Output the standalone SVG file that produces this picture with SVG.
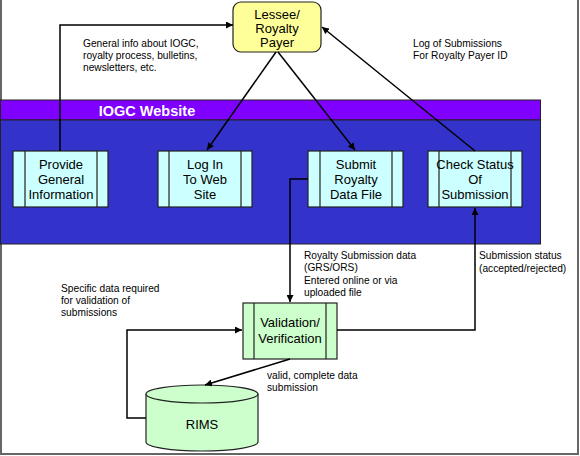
<svg xmlns="http://www.w3.org/2000/svg" width="580" height="456" viewBox="0 0 580 456">
<defs>
<marker id="ah" viewBox="0 0 10 10" refX="10" refY="5" markerWidth="7" markerHeight="7" markerUnits="userSpaceOnUse" orient="auto">
<path d="M0,0 L10,5 L0,10 z" fill="#000"/>
</marker>
<style>
.lbl{font-family:"Liberation Sans",Arial,sans-serif;font-size:10.2px;fill:#000}
.bt{font-family:"Liberation Sans",Arial,sans-serif;font-size:13px;fill:#000;text-anchor:middle}
.proc{fill:#CCFFFF;stroke:#222;stroke-width:1.2}
.proc2{fill:#CCFFCC;stroke:#222;stroke-width:1.2}
.inner{stroke:#222;stroke-width:1.2;fill:none}
.conn{fill:none;stroke:#000;stroke-width:1.5;marker-end:url(#ah)}
.connp{fill:none;stroke:#000;stroke-width:1.5}
</style>
</defs>
<rect width="580" height="456" fill="#fff"/>
<path d="M1,0 V454 H578 V0" fill="none" stroke="#666" stroke-width="2"/>

<g id="website">
<rect x="0.5" y="100" width="540" height="20" fill="#8000FF" stroke="#222" stroke-width="1"/>
<rect x="0.5" y="120" width="540" height="124" fill="#3333CC" stroke="#222" stroke-width="1"/>
<text x="147" y="116" font-family="Liberation Sans,Arial,sans-serif" font-size="14.5" font-weight="bold" fill="#fff" text-anchor="middle">IOGC Website</text>
</g>

<g id="lessee">
<rect x="233" y="2" width="88" height="50" rx="8" fill="#FFFF99" stroke="#222" stroke-width="1.2"/>
<text class="bt" x="277" y="19">Lessee/</text>
<text class="bt" x="277" y="33">Royalty</text>
<text class="bt" x="277" y="47">Payer</text>
</g>

<g id="provide">
<rect class="proc" x="13" y="151" width="95" height="56"/>
<path class="inner" d="M25,151 V207 M97,151 V207"/>
<text class="bt" x="61" y="169">Provide</text>
<text class="bt" x="61" y="184">General</text>
<text class="bt" x="61" y="199">Information</text>
</g>

<g id="login">
<rect class="proc" x="158" y="151" width="94" height="56"/>
<path class="inner" d="M169,151 V207 M241,151 V207"/>
<text class="bt" x="205" y="169">Log In</text>
<text class="bt" x="205" y="184">To Web</text>
<text class="bt" x="205" y="199">Site</text>
</g>

<g id="submit">
<rect class="proc" x="308" y="151" width="95" height="56"/>
<path class="inner" d="M320,151 V207 M392,151 V207"/>
<text class="bt" x="356" y="169">Submit</text>
<text class="bt" x="356" y="184">Royalty</text>
<text class="bt" x="356" y="199">Data File</text>
</g>

<g id="check">
<rect class="proc" x="428" y="151" width="94" height="56"/>
<path class="inner" d="M439,151 V207 M511,151 V207"/>
<text class="bt" x="475" y="169">Check Status</text>
<text class="bt" x="475" y="184">Of</text>
<text class="bt" x="475" y="199">Submission</text>
</g>

<g id="validation">
<rect class="proc2" x="243" y="303" width="94" height="56"/>
<path class="inner" d="M254,303 V359 M326,303 V359"/>
<text class="bt" x="290" y="327">Validation/</text>
<text class="bt" x="290" y="343">Verification</text>
</g>

<g id="rims">
<path d="M146,394 V442 A56,9 0 0 0 258,442 V394" fill="#CCFFCC" stroke="#222" stroke-width="1.2"/>
<ellipse cx="202" cy="394" rx="56" ry="9" fill="#CCFFCC" stroke="#222" stroke-width="1.2"/>
<text class="bt" x="202" y="429">RIMS</text>
</g>

<g id="connectors">
<path class="conn" d="M60,151 V25 H233"/>
<path class="conn" d="M276,52 L207,150"/>
<path class="conn" d="M278,52 L355,150"/>
<path class="conn" d="M475,151 L322,27"/>
<path class="conn" d="M308,179 H290 V302"/>
<path class="conn" d="M337,330 H475 V208"/>
<path class="conn" d="M290,359 L205,385"/>
<path class="conn" d="M146,418 H127 V330 H242"/>
</g>

<g id="labels">
<text class="lbl" x="83" y="47">General info about IOGC,</text>
<text class="lbl" x="83" y="59">royalty process, bulletins,</text>
<text class="lbl" x="83" y="71">newsletters, etc.</text>
<text class="lbl" x="413" y="47">Log of Submissions</text>
<text class="lbl" x="413" y="59">For Royalty Payer ID</text>
<text class="lbl" x="61" y="292">Specific data required</text>
<text class="lbl" x="61" y="304">for validation of</text>
<text class="lbl" x="61" y="316">submissions</text>
<text class="lbl" x="304" y="259">Royalty Submission data</text>
<text class="lbl" x="304" y="271">(GRS/ORS)</text>
<text class="lbl" x="304" y="284">Entered online or via</text>
<text class="lbl" x="304" y="296">uploaded file</text>
<text class="lbl" x="479" y="259">Submission status</text>
<text class="lbl" x="479" y="272">(accepted/rejected)</text>
<text class="lbl" x="267" y="379">valid, complete data</text>
<text class="lbl" x="267" y="391">submission</text>
</g>
</svg>
